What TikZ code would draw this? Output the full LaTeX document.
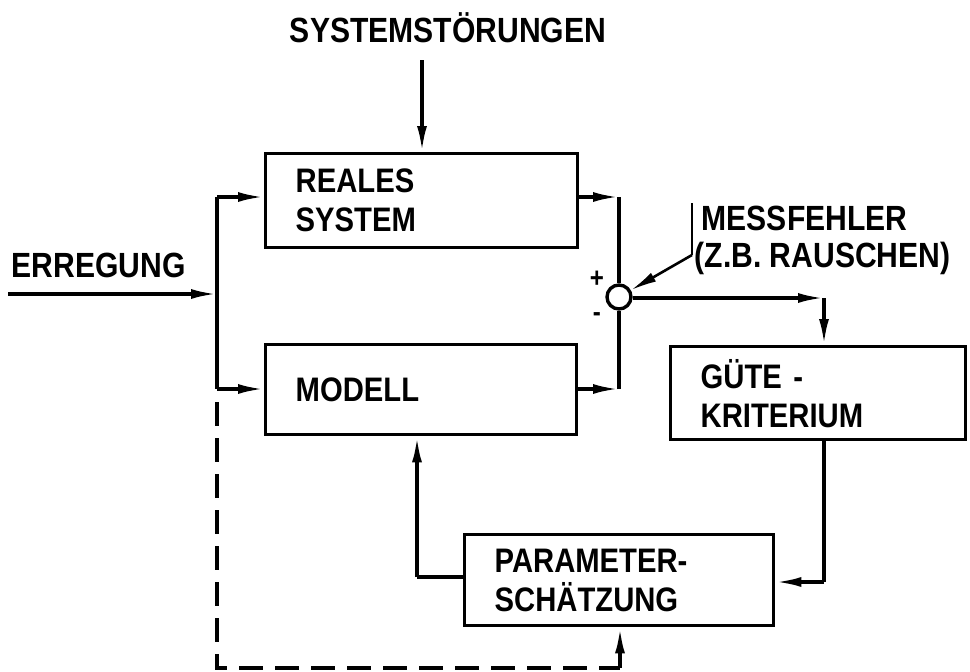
\documentclass[tikz,border=0pt]{standalone}
\usepackage{fontspec}
\setmainfont{Liberation Sans Bold}[FakeStretch=0.86]
\usetikzlibrary{arrows.meta}
\begin{document}
\begin{tikzpicture}[x=1pt,y=-1pt,line width=3.4pt,
  lbl/.style={font=\fontsize{35}{39}\selectfont, inner sep=0pt},
  sgn/.style={font=\fontsize{28}{30}\selectfont, inner sep=0pt},
  blk/.style={draw, line width=3.4pt, rectangle, anchor=north west, inner xsep=30pt, inner ysep=0pt,
              align=left, font=\fontsize{34}{39}\selectfont},
  arr/.style={-{Latex[length=26pt,width=10pt]}},
  dsh/.style={dash pattern=on 24pt off 12pt}]
\useasboundingbox (0,0) rectangle (970,672);

% blocks
\node[blk, text width=252pt, minimum height=94pt] (rs) at (264,152) {REALES\\SYSTEM};
\node[blk, text width=251pt, minimum height=90pt] (mo) at (264,343) {MODELL};
\node[blk, text width=235pt, minimum height=93pt] (gk) at (669,345) {GÜTE -\\KRITERIUM};
\node[blk, text width=249pt, minimum height=91pt] (pa) at (463,533) {PARAMETER-\\SCHÄTZUNG};
\node[circle, draw, line width=3.4pt, minimum size=24pt, inner sep=0pt] (sum) at (619,297) {};

% labels
\node[lbl, anchor=base] (sst) at (448,42) {SYSTEMSTÖRUNGEN};
\node[lbl, anchor=base west] (err) at (10,277) {ERREGUNG};
\node[lbl, anchor=base west] (mf1) at (700,230) {MESSFEHLER};
\node[lbl, anchor=base west] (mf2) at (693,267) {(Z.B. RAUSCHEN)};
\node[sgn, anchor=center] (plus) at (597,279) {+};
\node[sgn, anchor=center] (minus) at (597,317) {-};

% coordinates
\coordinate (st) at (422,60);
\coordinate (ein) at (8,294);
\coordinate (bin) at (217,294);
\coordinate (bt) at (217,197);
\coordinate (bb) at (217,389);
\coordinate (c1) at (619,197);
\coordinate (c2) at (619,389);
\coordinate (c3) at (824,298);
\coordinate (c4) at (824,582);
\coordinate (c5) at (417,577);
\coordinate (m1) at (692,203);
\coordinate (m2) at (692,255);
\coordinate (d0) at (217,402);
\coordinate (d1) at (217,668);
\coordinate (d2) at (620,668);

% connectors
\draw[arr] (st) -- (st |- rs.north);
\draw[arr] (ein) -- (bin);
\draw (bt) -- (bb);
\draw[arr] (bt) -- (bt -| rs.west);
\draw[arr] (bb) -- (bb -| mo.west);
\draw[arr] (rs.east |- c1) -- (c1);
\draw (c1) -- (sum.north);
\draw[arr] (mo.east |- c2) -- (c2);
\draw (c2) -- (sum.south);
\draw[arr] (sum.east |- c3) -- (c3);
\draw[arr] (c3) -- (c3 |- gk.north);
\draw (c3 |- gk.south) -- (c4);
\draw[arr] (c4) -- (c4 -| pa.east);
\draw (pa.west |- c5) -- (c5);
\draw[arr] (c5) -- (c5 |- mo.south);
\draw[line width=2.6pt] (m1) -- (m2);
\draw[arr, line width=2.6pt] (m2) -- (sum);
\draw[dsh] (d0) -- (d1) -- (d2);
\draw[arr] (d2) -- (d2 |- pa.south);
\end{tikzpicture}
\end{document}
